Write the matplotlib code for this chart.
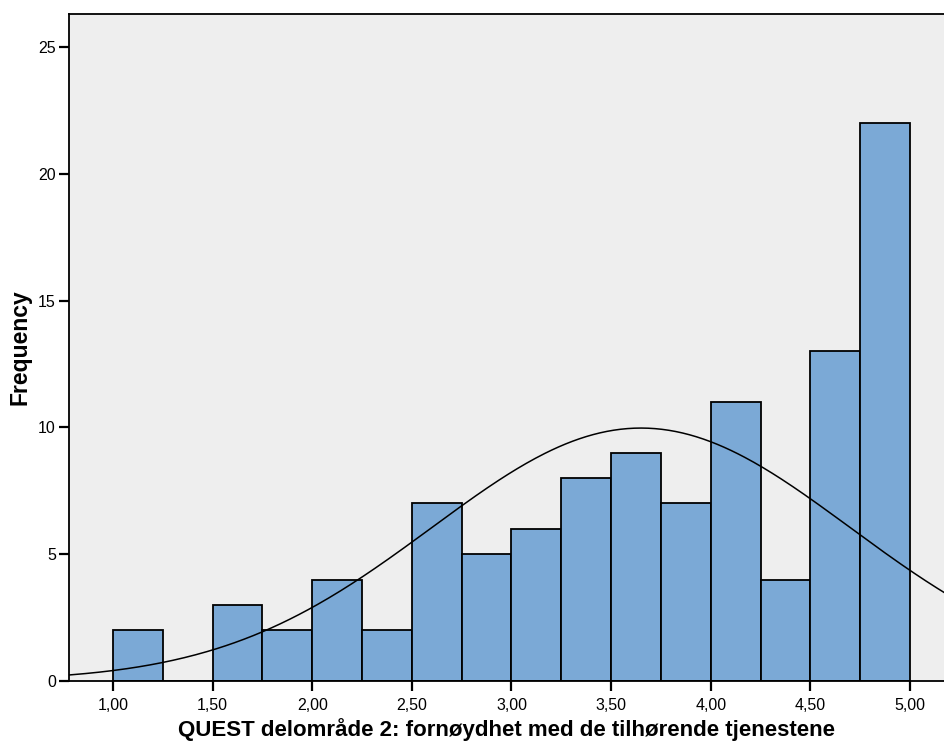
import numpy as np
import matplotlib.pyplot as plt

plt.rcParams['font.family'] = ['Liberation Sans', 'DejaVu Sans']

# histogram bins (width 0.25) and frequencies
bin_edges = [1.00, 1.25, 1.50, 1.75, 2.00, 2.25, 2.50, 2.75, 3.00,
             3.25, 3.50, 3.75, 4.00, 4.25, 4.50, 4.75, 5.00]
counts = [2, 0, 3, 2, 4, 2, 7, 5, 6, 8, 9, 7, 11, 4, 13, 22]

# normal curve parameters
mean_val = 3.65
sd_val = 1.05
n_total = sum(counts)
bin_width = 0.25

x_ticks = [1.0, 1.5, 2.0, 2.5, 3.0, 3.5, 4.0, 4.5, 5.0]
x_ticklabels = ['1,00', '1,50', '2,00', '2,50', '3,00', '3,50', '4,00', '4,50', '5,00']
y_ticks = [0, 5, 10, 15, 20, 25]

fig = plt.figure(figsize=(9.45, 7.44), dpi=100)
ax = fig.add_axes([69 / 945, 63 / 744, 1 - 69 / 945, (681 - 14) / 744])
ax.set_facecolor('#eeeeee')

lefts = bin_edges[:-1]
ax.bar(lefts, counts, width=bin_width, align='edge', color='#7ba9d6',
       edgecolor='black', linewidth=1.3, zorder=2)

xs = np.linspace(0.7, 5.3, 400)
ys = n_total * bin_width / (sd_val * np.sqrt(2 * np.pi)) * np.exp(-(xs - mean_val) ** 2 / (2 * sd_val ** 2))
ax.plot(xs, ys, color='black', linewidth=1.1, zorder=3)

ax.set_xlim(0.779, 5.176)
ax.set_ylim(0, 26.3)
ax.set_xticks(x_ticks)
ax.set_xticklabels(x_ticklabels)
ax.set_yticks(y_ticks)

for side in ['left', 'top', 'bottom']:
    ax.spines[side].set_linewidth(1.3)
ax.spines['right'].set_visible(False)

ax.tick_params(axis='x', length=7.5, width=1.6, labelsize=11.5, pad=5)
ax.tick_params(axis='y', length=7.5, width=1.6, labelsize=11.5, pad=2)

ax.set_xlabel('QUEST delområde 2: fornøydhet med de tilhørende tjenestene',
              fontsize=16, fontweight='bold', labelpad=3)
ax.set_ylabel('Frequency', fontsize=16.5, fontweight='bold', labelpad=5)

fig.savefig('out.png', dpi=100)
